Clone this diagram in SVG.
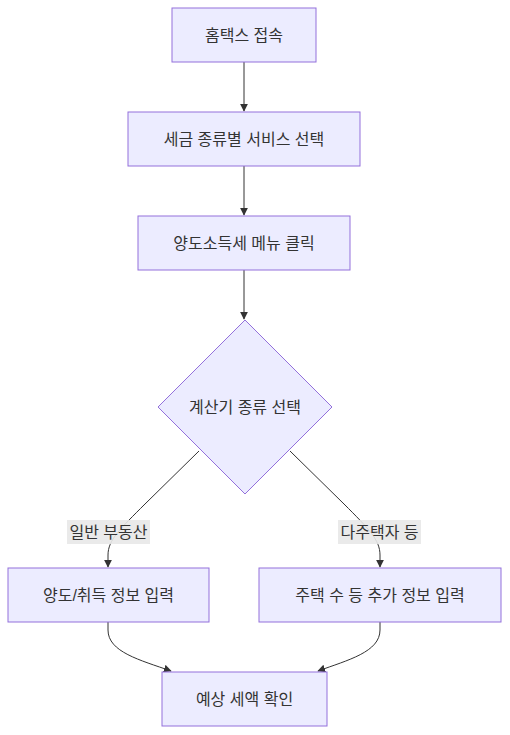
<svg xmlns="http://www.w3.org/2000/svg" width="510" height="735" viewBox="0 0 510 735">
<style>
.node rect, .node polygon { fill: #ECECFF; stroke: #9370DB; stroke-width: 1px; }
text { font-family: "Liberation Sans", "Noto Sans CJK KR", sans-serif; font-size: 16px; fill: #333; text-anchor: middle; dominant-baseline: central; }
.edge { fill: none; stroke: #333; stroke-width: 1px; }
.lblbg { fill: #e8e8e8; opacity: 0.9; }
</style>
<defs>
<marker id="arrow" viewBox="0 0 10 10" refX="9" refY="5" markerWidth="8" markerHeight="8" markerUnits="userSpaceOnUse" orient="auto">
<path d="M0,0 L10,5 L0,10 z" fill="#333"/>
</marker>
</defs>
<g id="connectors">
<path class="edge" d="M244,62 L244,111" marker-end="url(#arrow)"/>
<path class="edge" d="M244,166 L244,215" marker-end="url(#arrow)"/>
<path class="edge" d="M244,270 L244,319" marker-end="url(#arrow)"/>
<path class="edge" d="M199,451 L145,504 C120,529 108,540 108,555 L108,567" marker-end="url(#arrow)"/>
<path class="edge" d="M290,451 L344,504 C369,529 380,540 380,555 L380,567" marker-end="url(#arrow)"/>
<path class="edge" d="M108,622 L108,630 C108,652 140,660 171,671" marker-end="url(#arrow)"/>
<path class="edge" d="M380,622 L380,630 C380,652 348,660 318,671" marker-end="url(#arrow)"/>
<g id="label-general">
<rect class="lblbg" x="67" y="520" width="83" height="24"/>
<text x="108.5" y="532">일반 부동산</text>
</g>
<g id="label-multi">
<rect class="lblbg" x="338" y="520" width="83" height="24"/>
<text x="379.5" y="532">다주택자 등</text>
</g>
</g>
<g id="n1" class="node">
<rect x="172" y="8" width="144" height="54"/>
<text x="244" y="35">홈택스 접속</text>
</g>
<g id="n2" class="node">
<rect x="128" y="112" width="232" height="54"/>
<text x="244" y="139">세금 종류별 서비스 선택</text>
</g>
<g id="n3" class="node">
<rect x="138" y="216" width="212" height="54"/>
<text x="244" y="243">양도소득세 메뉴 클릭</text>
</g>
<g id="n4" class="node">
<polygon points="245,320 332,407 245,494 158,407"/>
<text x="245" y="407">계산기 종류 선택</text>
</g>
<g id="n5" class="node">
<rect x="8" y="568" width="201" height="54"/>
<text x="108.5" y="595">양도/취득 정보 입력</text>
</g>
<g id="n6" class="node">
<rect x="259" y="568" width="242" height="54"/>
<text x="380" y="595">주택 수 등 추가 정보 입력</text>
</g>
<g id="n7" class="node">
<rect x="162" y="672" width="165" height="54"/>
<text x="244.5" y="699">예상 세액 확인</text>
</g>
</svg>
